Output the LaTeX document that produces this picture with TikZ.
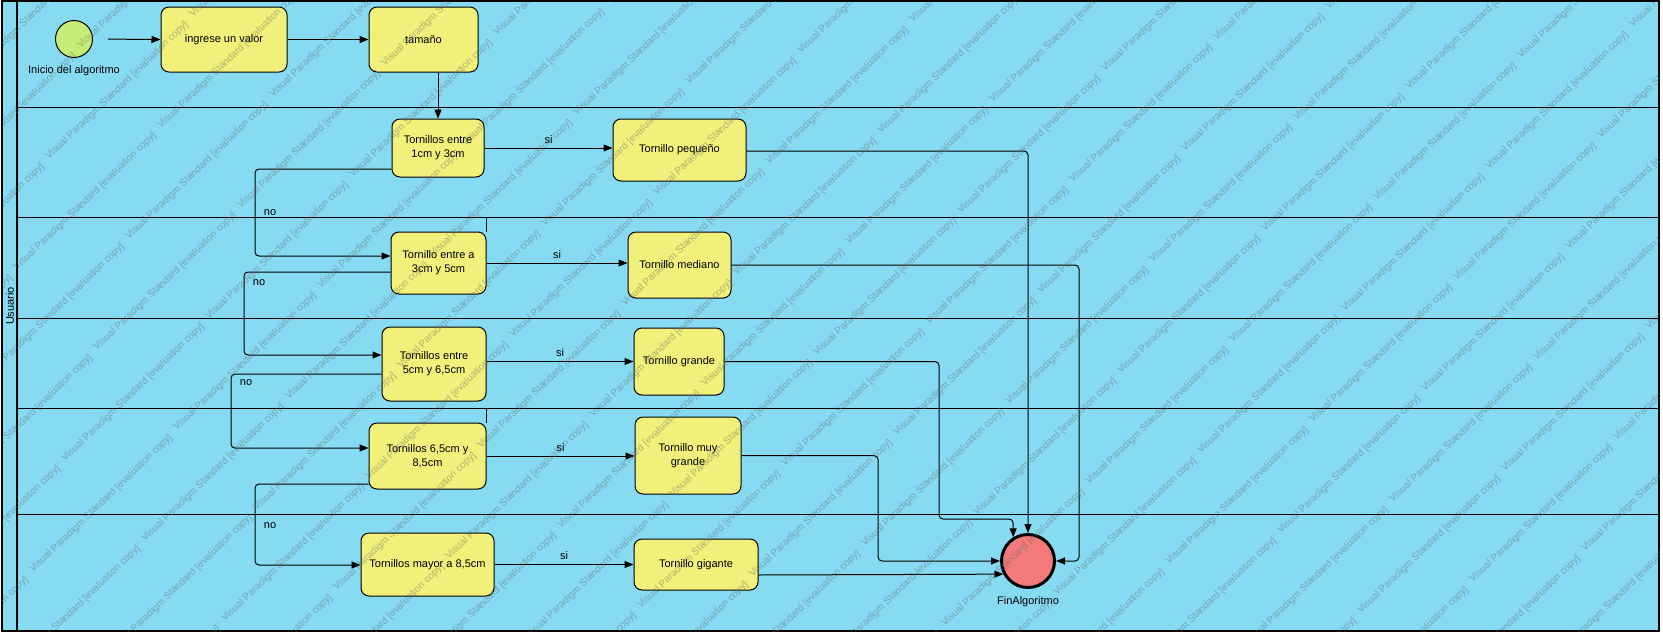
\documentclass[tikz,border=0pt]{standalone}
\usepackage{fontspec}
\setmainfont{Liberation Sans}
\usetikzlibrary{arrows.meta,calc}
\definecolor{lanefill}{RGB}{134,218,242}
\definecolor{actfill}{RGB}{240,240,122}
\definecolor{startfill}{RGB}{196,238,120}
\definecolor{endfill}{RGB}{242,122,122}
\begin{document}
\begin{tikzpicture}[x=1pt,y=-1pt,
  box/.style={draw=black, line width=1pt, fill=actfill, rounded corners=8pt, align=center, inner sep=0pt, font=\fontsize{11}{14}\selectfont},
  conn/.style={line width=1pt, -{Triangle[length=9pt,width=7pt]}},
  route/.style={conn, rounded corners=4pt},
  lbl/.style={font=\fontsize{11}{13}\selectfont, inner sep=0pt},
  wm/.style={font=\fontsize{10}{12}\selectfont, text=black!60, text opacity=0.45, inner sep=0pt, rotate=44, anchor=base west},
  laneline/.style={line width=1pt}
]
\useasboundingbox (0,0) rectangle (1663,635);
\fill[white] (0,0) rectangle (1663,635);
\fill[lanefill] (2,1) rectangle (1659,631);
% lanes
\foreach \yy in {107,217,318,408,514}{\draw[laneline] (17,\yy) -- (1659,\yy);}
\draw[line width=2pt] (17,1) -- (17,631);
\draw[line width=1.3pt] (2,1) rectangle (1659,631);
\node[lbl, rotate=90] (usuario) at (10,306) {Usuario};

% nodes
\node[circle, draw, line width=1pt, fill=startfill, minimum size=37pt, inner sep=0pt] (start) at (74,39) {};
\node[lbl] (startlbl) at (74,71) {Inicio del algoritmo};
\node[box, minimum width=126pt, minimum height=65pt] (ingrese) at (224,39.5) {ingrese un valor};
\node[box, minimum width=109pt, minimum height=65pt] (tamano) at (423.5,39.5) {tamaño};
\node[box, minimum width=92pt, minimum height=58pt] (t1) at (438,148) {Tornillos entre\\1cm y 3cm};
\node[box, minimum width=133pt, minimum height=62pt] (peq) at (679.5,150) {Tornillo pequeño};
\node[box, minimum width=95pt, minimum height=62pt] (t2) at (438.5,263) {Tornillo entre a\\3cm y 5cm};
\node[box, minimum width=103pt, minimum height=66pt] (med) at (679.5,265) {Tornillo mediano};
\node[box, minimum width=104pt, minimum height=74pt] (t3) at (434,364) {Tornillos entre\\5cm y 6,5cm};
\node[box, minimum width=90pt, minimum height=67pt] (gra) at (679,361.5) {Tornillo grande};
\node[box, minimum width=117pt, minimum height=66pt] (t4) at (427.5,456) {Tornillos 6,5cm y\\8,5cm};
\node[box, minimum width=106pt, minimum height=77pt] (muy) at (688,455.5) {Tornillo muy\\grande};
\node[box, minimum width=133pt, minimum height=63pt] (t5) at (427.5,564.5) {Tornillos mayor a 8,5cm};
\node[box, minimum width=124pt, minimum height=51pt] (gig) at (696,564.5) {Tornillo gigante};
\node[circle, draw, line width=3pt, fill=endfill, minimum size=53pt, inner sep=0pt] (end) at (1028,561) {};
\node[lbl] (endlbl) at (1028,602) {FinAlgoritmo};

% small ticks
\draw[line width=1pt] (t2.north east) -- (t2.north east |- 0,217);
\draw[line width=1pt] (t4.north east) -- (t4.north east |- 0,408);

% main flow
\draw[conn, shorten <=15pt] (start.east) -- (ingrese.west);
\draw[conn] (ingrese.east) -- (tamano.west);
\draw[conn] (t1.north |- tamano.south) -- (t1.north);

% si branches
\draw[conn] (t1.east) -- node[lbl, above=4pt] (si1) {si} (t1.east -| peq.west);
\draw[conn] (t2.east) -- node[lbl, above=4pt] (si2) {si} (t2.east -| med.west);
\draw[conn] (t3.east |- gra.west) -- node[lbl, above=4pt] (si3) {si} (gra.west);
\draw[conn] (t4.east) -- node[lbl, above=4pt] (si4) {si} (t4.east -| muy.west);
\draw[conn] (t5.east) -- node[lbl, above=4pt] (si5) {si} (t5.east -| gig.west);

% no branches
\draw[route] ($(t1.west)+(0,21)$) -| (255,256) -- ($(t2.west)+(0,-7)$);
\node[lbl] (no1) at (270,213) {no};
\draw[route] ($(t2.west)+(0,9)$) -| (244,355) -- ($(t3.west)+(0,-9)$);
\node[lbl] (no2) at (259,283) {no};
\draw[route] ($(t3.west)+(0,10)$) -| (231,448) -- ($(t4.west)+(0,-8)$);
\node[lbl] (no3) at (246,383) {no};
\draw[route] ($(t4.west)+(0,28)$) -| (255,565) -- ($(t5.west)+(0,0.5)$);
\node[lbl] (no4) at (270,526) {no};

% to end
\draw[route] ($(peq.east)+(0,1)$) -| (end.north);
\draw[route] (med.east) -| (1079,561) -- (end.east);
\draw[route] (gra.east) -| (939,519) -| (end.122);
\draw[route] (muy.east) -| (878,561) -- (end.west);
\draw[conn] ($(gig.east)+(0,10.5)$) -- (end.208);

% watermark
\begin{scope}
\clip (2,1) rectangle (1659,631);
\foreach \m in {-13,...,5}{
  \foreach \n in {-10,...,10}{
    \pgfmathsetmacro\wx{1153+\m*112+\n*80}
    \pgfmathsetmacro\wy{263-\m*31+\n*80}
    \pgfmathtruncatemacro\wok{and(and(\wx>-150,\wx<1655),and(\wy>4,\wy<780))}
    \ifnum\wok=1
      \node[wm] (wm\m x\n) at (\wx,\wy) {Visual Paradigm Standard [evaluation copy]};
    \fi
  }
}
\end{scope}
\end{tikzpicture}
\end{document}
